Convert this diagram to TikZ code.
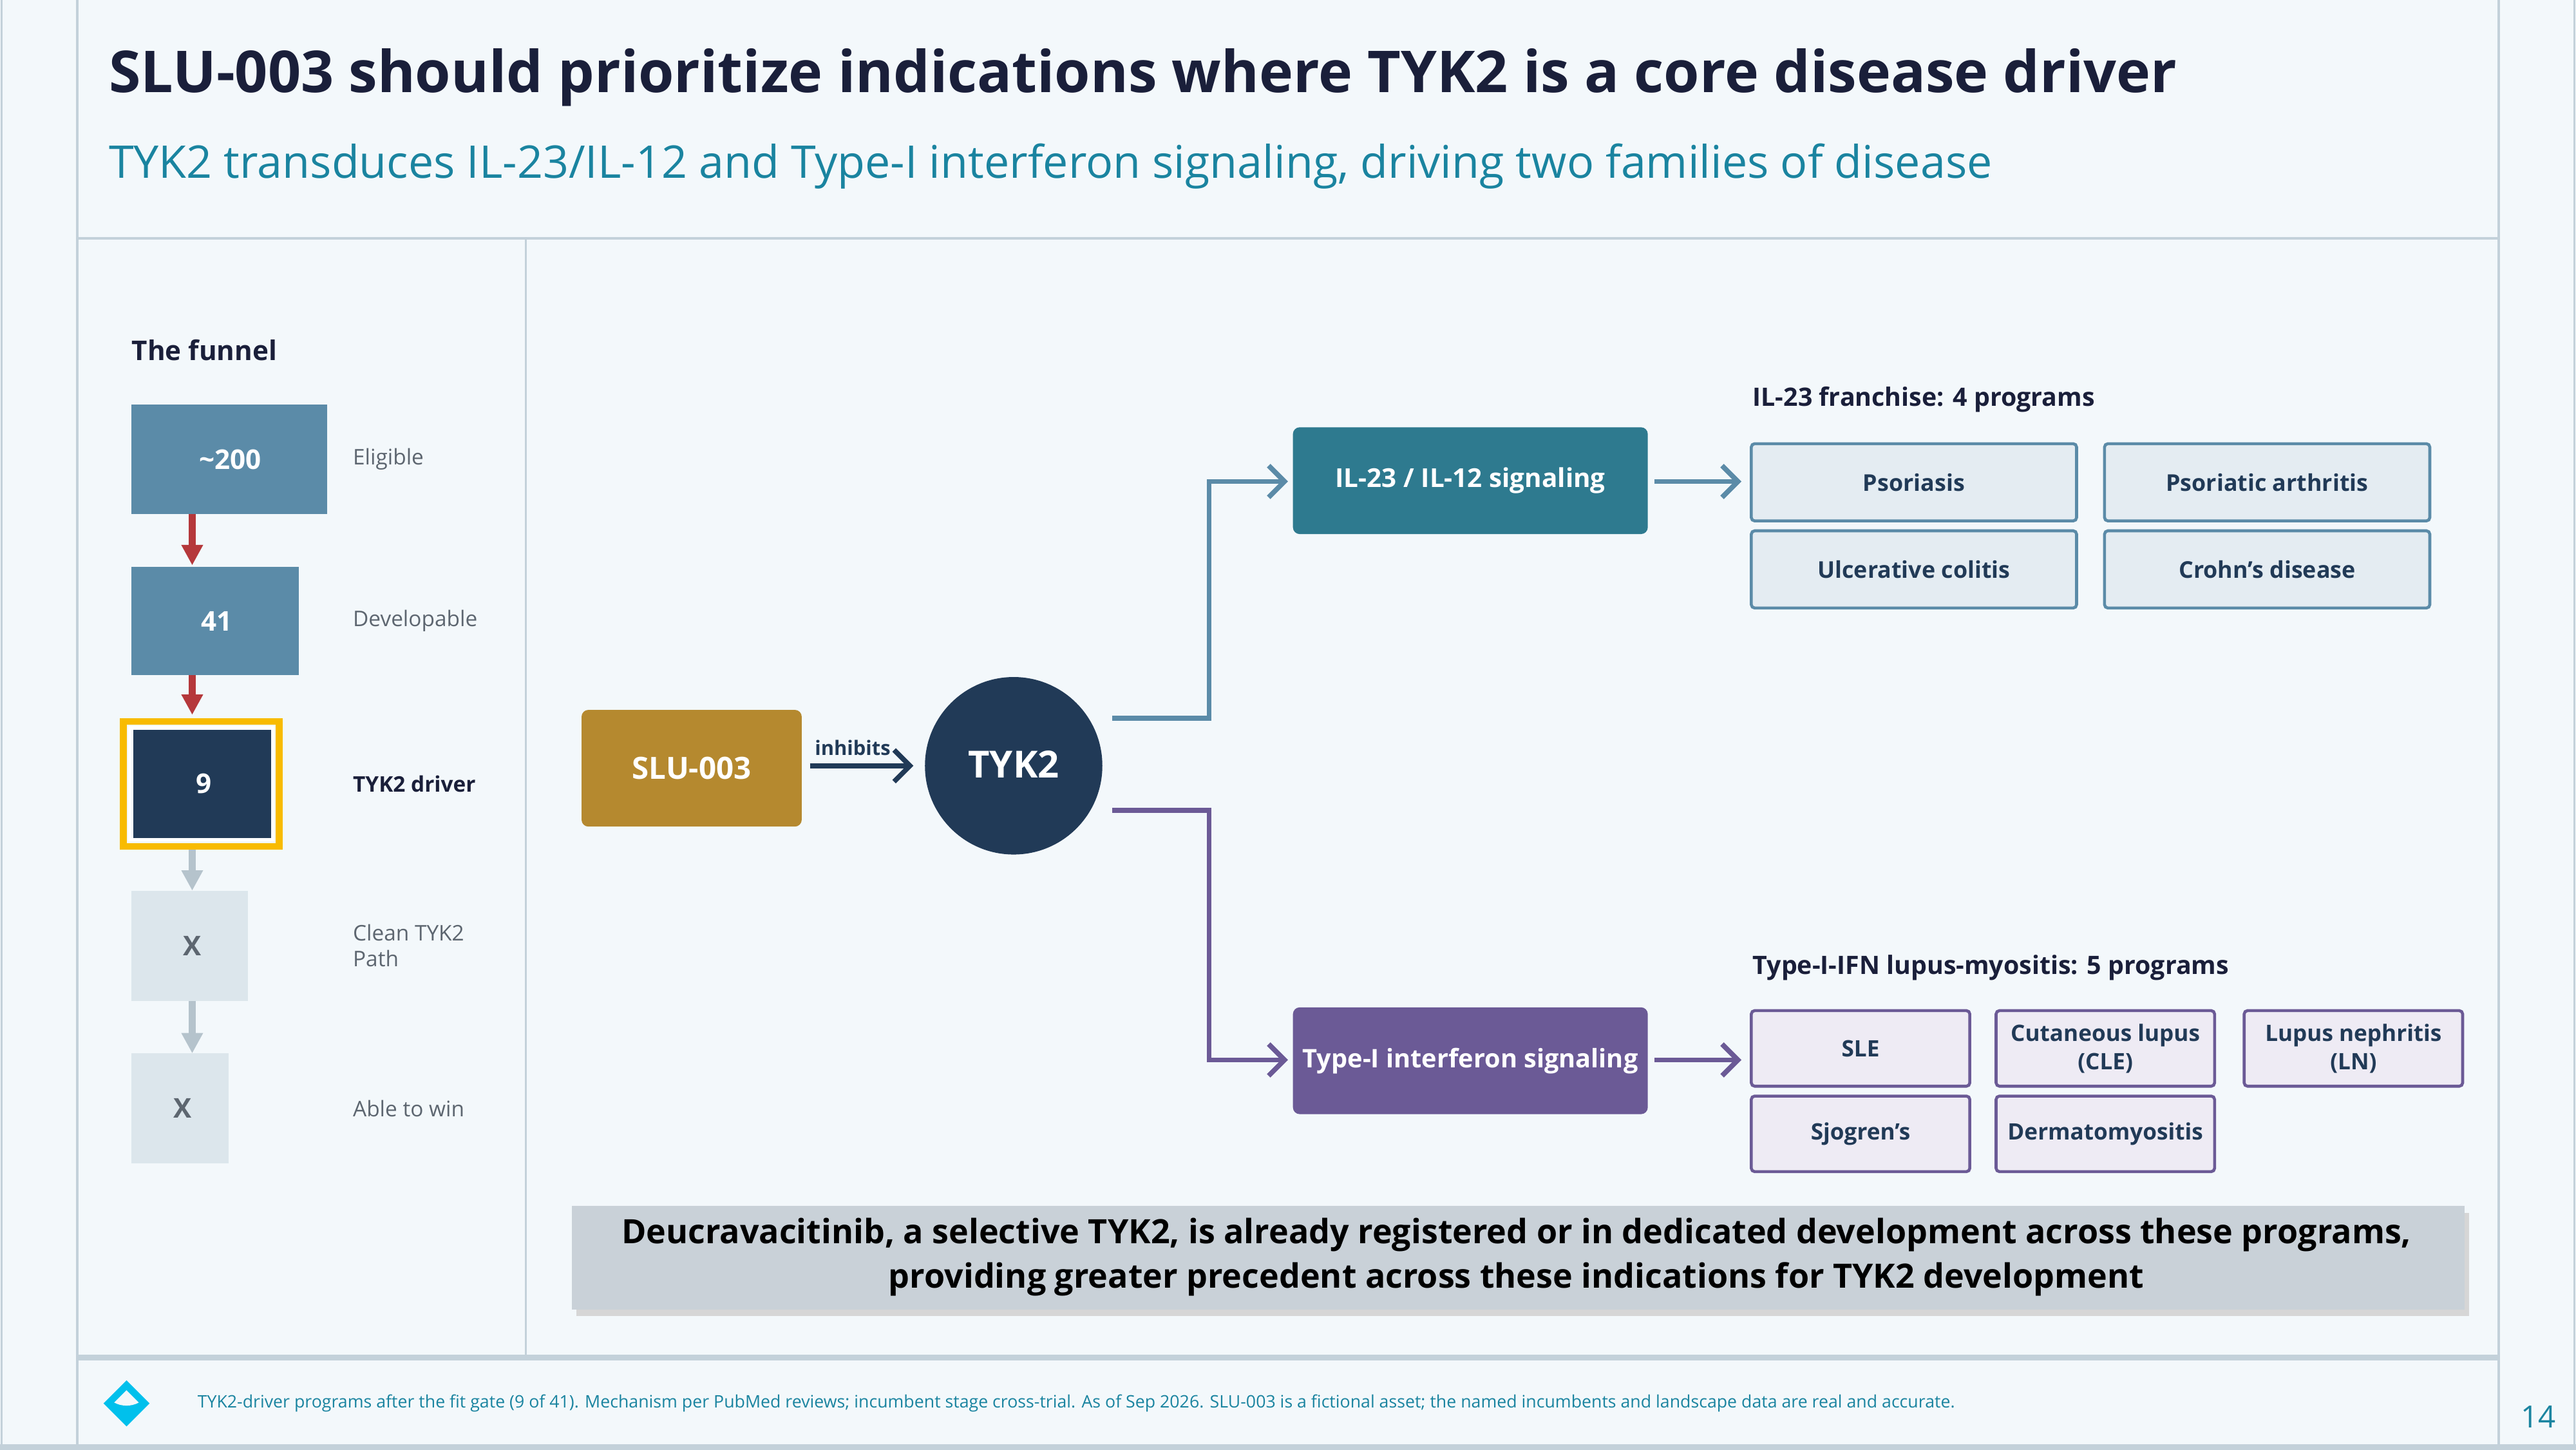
\documentclass[tikz,border=0pt]{standalone}
\usepackage{fontspec}
\setmainfont{Open Sans}
\usetikzlibrary{arrows.meta}
\definecolor{bg}{HTML}{F3F8FB}
\definecolor{frame}{HTML}{C3D1DA}
\definecolor{ink}{HTML}{1A1F3A}
\definecolor{teal}{HTML}{1A84A0}
\definecolor{steel}{HTML}{5B8BA8}
\definecolor{navy}{HTML}{213A57}
\definecolor{gold}{HTML}{B5892F}
\definecolor{goldring}{HTML}{F8BB00}
\definecolor{ilteal}{HTML}{2E7A8F}
\definecolor{purp}{HTML}{6B5A96}
\definecolor{redarr}{HTML}{B5383B}
\definecolor{grayarr}{HTML}{B5C3CC}
\definecolor{pale}{HTML}{DCE6EC}
\definecolor{lbl}{HTML}{5D6670}
\definecolor{ilfill}{HTML}{E4ECF2}
\definecolor{ifnfill}{HTML}{EEEBF4}
\definecolor{banner}{HTML}{C9D1D8}
\definecolor{cyanlogo}{HTML}{00C0EC}
\newcommand{\apos}{{\char"0027}}
\begin{document}
\begin{tikzpicture}[x=0.02551cm,y=-0.02551cm,
  fnum/.style={text=white,font=\fontsize{12}{14}\selectfont\bfseries},
  flbl/.style={anchor=west,font=\fontsize{9.5}{12}\selectfont,text=lbl,align=left},
  farr/.style={line width=3.2pt,-{Triangle[width=9pt,length=9pt]}},
  conn/.style={line width=2.2pt,-{Straight Barb[length=7pt,width=14pt,line width=2.2pt]}},
  btxt/.style={font=\fontsize{10.2}{12.3}\selectfont\bfseries,text=navy,align=center},
  hdr/.style={anchor=west,font=\fontsize{11.2}{14}\selectfont\bfseries,text=ink}]
\fill[bg] (0,0) rectangle (1568,882);
\useasboundingbox (0,0) rectangle (1568,882);
% frame
\draw[frame,line width=1pt] (1,0) -- (1,882) (47,0) -- (47,882) (1521,0) -- (1521,882) (1567,0) -- (1567,882);
\draw[frame,line width=1pt] (47,145) -- (1521,145);
\draw[frame,line width=1pt] (320,145) -- (320,825);
\draw[frame,line width=2.5pt] (47,826) -- (1521,826);
\draw[frame,line width=3pt] (0,881) -- (1568,881);
% titles
\node[anchor=west,inner sep=0,font=\fontsize{25.5}{30}\selectfont\bfseries,text=ink] (title) at (66,47) {SLU-003 should prioritize indications where TYK2 is a core disease driver};
\node[anchor=west,inner sep=0,font=\fontsize{19.9}{24}\selectfont,text=teal] (sub) at (66,101) {TYK2 transduces IL-23/IL-12 and Type-I interferon signaling, driving two families of disease};
% funnel
\node[anchor=west,inner sep=0,font=\fontsize{12}{14}\selectfont\bfseries,text=ink] (ft) at (80,213) {The funnel};
\fill[steel] (80,246) rectangle (199,313);
\node[fnum] (t1) at (140,279.5) {\textasciitilde200};
\fill[steel] (80,345) rectangle (182,411);
\node[fnum] (t2) at (132,378) {41};
\draw[goldring,line width=3pt] (75,439) rectangle (170,515);
\draw[white,line width=1.5pt] (79,443) rectangle (166,511);
\fill[navy] (81,444) rectangle (165,510);
\node[fnum] (t3) at (124,477) {9};
\fill[pale] (80,542) rectangle (151,609);
\node[fnum,text=lbl] (t4) at (117,575.5) {X};
\fill[pale] (80,641) rectangle (139,708);
\node[fnum,text=lbl] (t5) at (111,674.5) {X};
\coordinate (a1) at (117,313); \coordinate (a1e) at (117,344);
\coordinate (a2) at (117,411); \coordinate (a2e) at (117,435);
\coordinate (a3) at (117,517); \coordinate (a3e) at (117,542);
\coordinate (a4) at (117,609); \coordinate (a4e) at (117,641);
\draw[farr,redarr] (a1) -- (a1e);
\draw[farr,redarr] (a2) -- (a2e);
\draw[farr,grayarr] (a3) -- (a3e);
\draw[farr,grayarr] (a4) -- (a4e);
\node[flbl] (l1) at (210,279.5) {Eligible};
\node[flbl] (l2) at (210,378) {Developable};
\node[flbl,font=\fontsize{9.5}{12}\selectfont\bfseries,text=ink] (l3) at (210,477) {TYK2 driver};
\node[flbl,font=\fontsize{9.5}{11.5}\selectfont] (l4) at (210,575.5) {Clean TYK2\\Path};
\node[flbl] (l5) at (210,674.5) {Able to win};
% mechanism
\fill[gold,rounded corners=3pt] (354,432) rectangle (488,503);
\node[text=white,font=\fontsize{13.5}{15}\selectfont\bfseries] (slu) at (421,467.5) {SLU-003};
\fill[navy] (617,466) circle (54);
\node[text=white,font=\fontsize{16.5}{18}\selectfont\bfseries] (tyk) at (617,465) {TYK2};
\coordinate (s1) at (493,466); \coordinate (s2) at (556,466);
\draw[conn,navy] (s1) -- (s2);
\node[font=\fontsize{8.8}{10}\selectfont\bfseries,text=navy] (inh) at (519,455) {inhibits};
\fill[ilteal,rounded corners=3pt] (787,260) rectangle (1003,325);
\node[text=white,font=\fontsize{11.5}{13}\selectfont\bfseries] (il) at (895,292.5) {IL-23 / IL-12 signaling};
\fill[purp,rounded corners=3pt] (787,613) rectangle (1003,678);
\node[text=white,font=\fontsize{11.3}{13}\selectfont\bfseries] (ifn) at (895,645.5) {Type-I interferon signaling};
\coordinate (u0) at (677,437); \coordinate (u1) at (784,293);
\coordinate (d0) at (677,493); \coordinate (d1) at (784,645);
\draw[conn,steel] (u0) -- (736,437) -- (736,293) -- (u1);
\draw[conn,purp] (d0) -- (736,493) -- (736,645) -- (d1);
\coordinate (r1) at (1007,293); \coordinate (r1e) at (1060,293);
\coordinate (r2) at (1007,645); \coordinate (r2e) at (1060,645);
\draw[conn,steel] (r1) -- (r1e);
\draw[conn,purp] (r2) -- (r2e);
% IL-23 boxes
\node[hdr] (h1) at (1062,243) {IL-23 franchise: 4 programs};
\foreach \n/\x/\y/\t in {p1/1066/270/Psoriasis,p2/1281/270/Psoriatic arthritis,p3/1066/323/Ulcerative colitis,p4/1281/323/Crohn\apos s disease}{
  \draw[steel,line width=1.3pt,fill=ilfill,rounded corners=1.5pt] (\x,\y) rectangle ++(198,47);
  \node[btxt] (\n) at (\x+99,\y+23.5) {\t};
}
\node[hdr] (h2) at (1062,589) {Type-I-IFN lupus-myositis: 5 programs};
\foreach \n/\x/\y/\t in {q1/1066/615/SLE,q2/1215/615/{Cutaneous lupus\\(CLE)},q3/1366/615/{Lupus nephritis\\(LN)},q4/1066/667/Sjogren\apos s,q5/1215/667/Dermatomyositis}{
  \draw[purp,line width=1.3pt,fill=ifnfill,rounded corners=1.5pt] (\x,\y) rectangle ++(133,46);
  \node[btxt,font=\fontsize{10}{12.5}\selectfont\bfseries] (\n) at (\x+66.5,\y+23) {\t};
}
% banner
\fill[black!16] (351,738) rectangle (1503,801);
\fill[banner] (348,734) rectangle (1500,797);
\node[font=\fontsize{14.8}{19.5}\selectfont\bfseries,text=black,align=center] (ban) at (923,765) {Deucravacitinib, a selective TYK2, is already registered or in dedicated development across these programs,\\providing greater precedent across these indications for TYK2 development};
% footer
\fill[cyanlogo] (77,840) -- (91,854) -- (77,868) -- (63,854) -- cycle;
\fill[bg] (77,846) -- (84.5,853.5) .. controls (80,856) and (74,856) .. (69.5,853.5) -- cycle;
\node[anchor=west,inner sep=0,font=\fontsize{7.6}{8}\selectfont,text=teal] (foot) at (120,854) {TYK2-driver programs after the fit gate (9 of 41). Mechanism per PubMed reviews; incumbent stage cross-trial. As of Sep 2026. SLU-003 is a fictional asset; the named incumbents and landscape data are real and accurate.};
\node[font=\fontsize{13.5}{15}\selectfont,text=teal] (pg) at (1545,862) {14};
\end{tikzpicture}
\end{document}
